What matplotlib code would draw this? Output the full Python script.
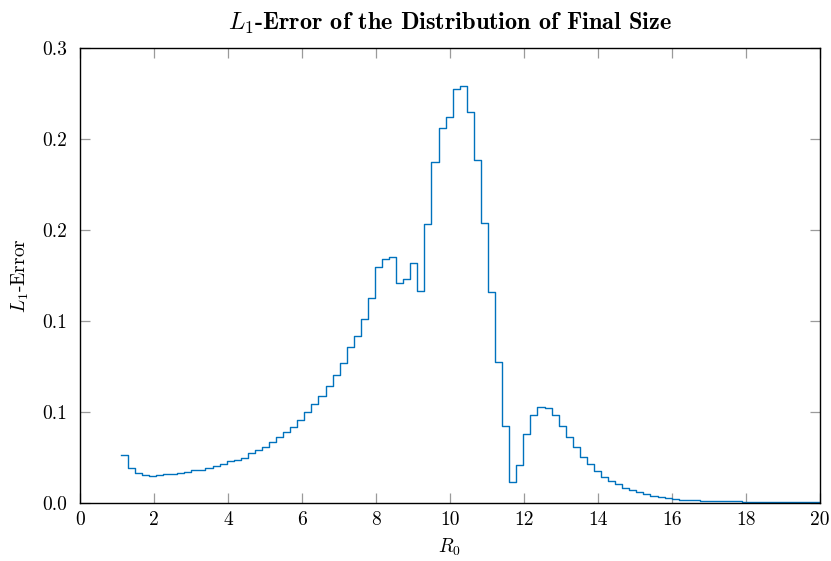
import numpy as np
import matplotlib
matplotlib.use("Agg")
import matplotlib.pyplot as plt

# ---- data ----
r0 = np.linspace(1.1, 20.0, 100)
l1_error = [
    0.0265, 0.0191, 0.0163, 0.0154, 0.0148, 0.0152, 0.0158, 0.0162, 0.0166, 0.0170,
    0.0179, 0.0184, 0.0190, 0.0201, 0.0212, 0.0231, 0.0239, 0.0250, 0.0275, 0.0291,
    0.0308, 0.0337, 0.0361, 0.0390, 0.0419, 0.0454, 0.0500, 0.0546, 0.0590, 0.0643,
    0.0703, 0.0768, 0.0855, 0.0916, 0.1011, 0.1128, 0.1297, 0.1343, 0.1349, 0.1210,
    0.1231, 0.1316, 0.1166, 0.1531, 0.1872, 0.2062, 0.2123, 0.2275, 0.2290, 0.2150,
    0.1885, 0.1537, 0.1158, 0.0776, 0.0423, 0.0113, 0.0209, 0.0379, 0.0482, 0.0526,
    0.0520, 0.0482, 0.0425, 0.0364, 0.0306, 0.0254, 0.0214, 0.0177, 0.0145, 0.0123,
    0.0102, 0.0084, 0.0070, 0.0059, 0.0049, 0.0040, 0.0033, 0.0027, 0.0022, 0.0018,
    0.0016, 0.0015, 0.0013, 0.0012, 0.0011, 0.0010, 0.0009, 0.0009, 0.0008, 0.0008,
    0.0007, 0.0007, 0.0007, 0.0006, 0.0006, 0.0006, 0.0006, 0.0005, 0.0005, 0.0005,
]
x_ticks = [0, 2, 4, 6, 8, 10, 12, 14, 16, 18, 20]
y_ticks = [0.0, 0.05, 0.10, 0.15, 0.20, 0.25]
y_tick_labels = ["0.0", "0.1", "0.1", "0.2", "0.2", "0.3"]

# ---- style ----
plt.rcParams["font.family"] = "cmr10"
plt.rcParams["mathtext.fontset"] = "cm"
plt.rcParams["axes.unicode_minus"] = False
plt.rcParams["axes.formatter.use_mathtext"] = True

fig = plt.figure(figsize=(8.31, 5.61), dpi=100)
ax = fig.add_axes([80 / 831, 58 / 561, 740 / 831, 455 / 561])

ax.step(r0, l1_error, where="post", color="#0072BD", linewidth=1.0)

ax.set_xlim(0, 20)
ax.set_ylim(0, 0.25)
ax.set_xticks(x_ticks)
ax.set_xticklabels([str(t) for t in x_ticks])
ax.set_yticks(y_ticks)
ax.set_yticklabels(y_tick_labels)

ax.tick_params(direction="in", length=7.5, width=0.9, color="#9a9a9a",
               top=True, right=True, labelsize=14)
ax.tick_params(axis="y", pad=9)
ax.tick_params(axis="x", pad=6)
for s in ax.spines.values():
    s.set_linewidth(1.0)
    s.set_color("black")

ax.set_xlabel("$R_0$", fontsize=14, labelpad=5)
ax.set_ylabel("$L_1$-Error", fontsize=14, labelpad=8)
ax.set_title("$L_1$-Error of the Distribution of Final Size",
             fontsize=17.5, fontfamily="cmb10", pad=13)

fig.savefig("out.png", dpi=100)
